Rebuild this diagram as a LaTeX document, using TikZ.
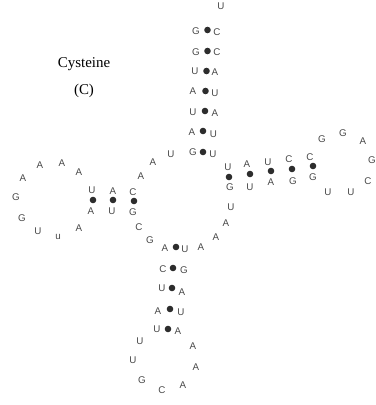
\documentclass[tikz,border=0pt]{standalone}
\usepackage{fontspec}
\setmainfont{Liberation Serif}
\newfontfamily\basefont{Liberation Sans}
\definecolor{basegray}{RGB}{72,72,72}
\definecolor{pairdot}{RGB}{45,45,45}
\tikzset{
  base/.style={font=\basefont\fontsize{9.8}{12}\selectfont,text=basegray,inner sep=0pt},
  pairdot/.style={circle,fill=pairdot,inner sep=0pt,minimum size=6.6bp},
}

\begin{document}
\begin{tikzpicture}[x=1bp,y=-1bp]
  \useasboundingbox (0,0) rectangle (376,405);

  % Amino acid label
  \node[font=\fontsize{15}{27}\selectfont,align=center] (aminoacid) at (84,77.5)
    {Cysteine\\(C)};

  % Acceptor stem
  \node[base] (acc-end) at (221,6) {U};
  \foreach \x/\y/\b [count=\i] in {196/31/G,196/52/G,195/71/U,193/91/A,
                                   193/112/U,192/132/A,193/152/G}
    \node[base] (acc-l\i) at (\x,\y) {\b};
  \foreach \x/\y [count=\i] in {207.5/30,207.5/51,206.5/71,205.5/91,
                                205/111,203/131,203/152}
    \node[pairdot] (acc-bp\i) at (\x,\y) {};
  \foreach \x/\y/\b [count=\i] in {217/32/C,217/52/C,215/72/A,215/93/U,
                                   215/113/A,213.5/134/U,213/154/U}
    \node[base] (acc-r\i) at (\x,\y) {\b};

  % Junction towards the D arm
  \node[base] (jd-1) at (171,154) {U};
  \node[base] (jd-2) at (153,162) {A};
  \node[base] (jd-3) at (141,176) {A};

  % D stem
  \foreach \x/\y/\b [count=\i] in {92/190/U,113/191/A,133/192/C}
    \node[base] (d-top\i) at (\x,\y) {\b};
  \foreach \x/\y [count=\i] in {93/200,113/200,134/201}
    \node[pairdot] (d-bp\i) at (\x,\y) {};
  \foreach \x/\y/\b [count=\i] in {91/211/A,112/211/U,133/212/G}
    \node[base] (d-bot\i) at (\x,\y) {\b};

  % D loop
  \foreach \x/\y/\b [count=\i] in {79/172/A,62/163/A,40/165/A,23/178/A,
                                   16/197/G,22/218/G,38/231/U,58/237/u,79/228/A}
    \node[base] (d-loop\i) at (\x,\y) {\b};

  % Central loop
  \foreach \x/\y/\b [count=\i] in {139/227/C,150/240/G,201/247/A,216/237/A,
                                   226/223/A,231/207/U}
    \node[base] (core\i) at (\x,\y) {\b};

  % T stem
  \foreach \x/\y/\b [count=\i] in {228/167/U,247/164/A,268/162/U,289/159/C,310/157/C}
    \node[base] (t-top\i) at (\x,\y) {\b};
  \foreach \x/\y [count=\i] in {229/177,250/174,271/171,292/169,313/166}
    \node[pairdot] (t-bp\i) at (\x,\y) {};
  \foreach \x/\y/\b [count=\i] in {230/187/G,250/187/U,271/182/A,293/181/G,313/177/G}
    \node[base] (t-bot\i) at (\x,\y) {\b};

  % T loop
  \foreach \x/\y/\b [count=\i] in {322/139/G,343/133/G,363/141/A,372/160/G,
                                   368/181/C,351/192/U,328/192/U}
    \node[base] (t-loop\i) at (\x,\y) {\b};

  % Anticodon stem
  \foreach \x/\y/\b [count=\i] in {165/248/A,163/269/C,162/288/U,158/311/A,157/329/U}
    \node[base] (ac-l\i) at (\x,\y) {\b};
  \foreach \x/\y [count=\i] in {176/247,173/268,172/288,170/309,168/329}
    \node[pairdot] (ac-bp\i) at (\x,\y) {};
  \foreach \x/\y/\b [count=\i] in {185/249/U,184/270/G,182/292/A,181/312/U,178/331/A}
    \node[base] (ac-r\i) at (\x,\y) {\b};

  % Anticodon loop
  \foreach \x/\y/\b [count=\i] in {140/341/U,133/360/U,142/380/G,162/390/C,
                                   183/385/A,196/367/A,193/346/A}
    \node[base] (ac-loop\i) at (\x,\y) {\b};

\end{tikzpicture}
\end{document}
